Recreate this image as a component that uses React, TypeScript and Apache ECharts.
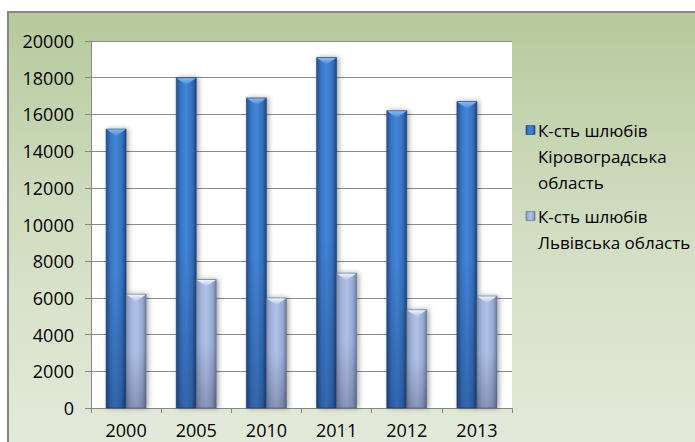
import React, { useEffect, useRef } from "react";
import * as echarts from "echarts";

const categories = ["2000", "2005", "2010", "2011", "2012", "2013"];
const kirovograd = [15200, 18000, 16900, 19100, 16200, 16700];
const lviv = [6200, 7000, 6000, 7350, 5350, 6100];
const seriesNames = [
  "К-сть шлюбів Кіровоградська область",
  "К-сть шлюбів Львівська область",
];
const legendLines = [
  ["К-сть шлюбів", "Кіровоградська", "область"],
  ["К-сть шлюбів", "Львівська область"],
];
const yMin = 0;
const yMax = 20000;
const yInterval = 2000;

const FONT = '"Open Sans", "Noto Sans", sans-serif';

const palettes = [
  {
    body: ["#24518e", "#3a78c9", "#4385d8", "#3670bd", "#1d467e"],
    top: "#8dbaf3",
    edge: "#1b3f70",
  },
  {
    body: ["#7f90b6", "#a3b4dc", "#b0c1e8", "#9aabd2", "#6f7fa3"],
    top: "#eef3fd",
    edge: "#5d6a88",
  },
];

function bodyGradient(p: (typeof palettes)[number]) {
  return new echarts.graphic.LinearGradient(0, 0, 1, 0, [
    { offset: 0, color: p.body[0] },
    { offset: 0.25, color: p.body[1] },
    { offset: 0.5, color: p.body[2] },
    { offset: 0.8, color: p.body[3] },
    { offset: 1, color: p.body[4] },
  ]);
}

function makeRenderItem(seriesIdx: number) {
  return (params: any, api: any) => {
    const idx = api.value(0);
    const val = api.value(1);
    const top = api.coord([idx, val]);
    const base = api.coord([idx, 0]);
    const cw = api.size([1, 0])[0];
    const bw = cw * 0.285;
    const x0 = seriesIdx === 0 ? top[0] - bw : top[0];
    const h = base[1] - top[1];
    const p = palettes[seriesIdx];
    const bevel = Math.min(7, h / 2);
    return {
      type: "group",
      children: [
        {
          type: "rect",
          shape: { x: x0, y: top[1], width: bw, height: h },
          style: {
            fill: bodyGradient(p),
            stroke: p.edge,
            lineWidth: 0.6,
            shadowBlur: 5,
            shadowColor: "rgba(0,0,0,0.35)",
            shadowOffsetX: 2,
            shadowOffsetY: 0,
          },
        },
        {
          type: "rect",
          shape: { x: x0, y: base[1] - h * 0.5, width: bw, height: h * 0.5 },
          style: {
            fill: new echarts.graphic.LinearGradient(0, 0, 0, 1, [
              { offset: 0, color: "rgba(0,0,0,0)" },
              { offset: 1, color: "rgba(0,0,30,0.22)" },
            ]),
          },
        },
        {
          type: "polygon",
          shape: {
            points: [
              [x0 + 0.5, top[1] + 0.5],
              [x0 + bw - 0.5, top[1] + 0.5],
              [x0 + bw / 2, top[1] + bevel],
            ],
          },
          style: {
            fill: new echarts.graphic.LinearGradient(0, 0, 0, 1, [
              { offset: 0, color: p.top },
              { offset: 1, color: p.body[2] },
            ]),
          },
        },
      ],
    };
  };
}

export default function App() {
  const ref = useRef<HTMLDivElement>(null);

  useEffect(() => {
    if (!ref.current) return;
    const chart = echarts.init(ref.current, undefined, { renderer: "svg" });
    const allSeries = [kirovograd, lviv];

    const legendGraphics: any[] = [];
    const legendTops = [130, 216];
    legendLines.forEach((lines, i) => {
      const cy = legendTops[i];
      legendGraphics.push({
        type: "rect",
        shape: { x: 526, y: cy - 4.5, width: 9, height: 9 },
        style: {
          fill: bodyGradient(palettes[i]),
          stroke: palettes[i].edge,
          lineWidth: 0.6,
        },
      });
      legendGraphics.push({
        type: "text",
        x: 538,
        y: cy - 13,
        style: {
          text: lines.join("\n"),
          font: `17px ${FONT}`,
          lineHeight: 26,
          fill: "#000",
          verticalAlign: "top",
          align: "left",
        },
      });
    });

    chart.setOption({
      animation: false,
      backgroundColor: "transparent",
      grid: {
        left: 91,
        right: 183,
        top: 41,
        bottom: 34,
        show: true,
        backgroundColor: "#ffffff",
        borderWidth: 0,
      },
      xAxis: {
        type: "category",
        data: categories,
        axisLine: { show: true, lineStyle: { color: "#868686", width: 1 } },
        axisTick: { show: true, length: 5, lineStyle: { color: "#868686" } },
        axisLabel: {
          color: "#000",
          fontSize: 18,
          fontFamily: FONT,
          margin: 13,
        },
        splitLine: { show: false },
      },
      yAxis: {
        type: "value",
        min: yMin,
        max: yMax,
        interval: yInterval,
        axisLine: { show: true, lineStyle: { color: "#868686", width: 1 } },
        axisTick: { show: true, length: 6, lineStyle: { color: "#868686" } },
        axisLabel: {
          color: "#000",
          fontSize: 18,
          fontFamily: FONT,
          margin: 17,
          formatter: (v: number) => String(v),
        },
        splitLine: { show: true, lineStyle: { color: "#8c8c8c", width: 1 } },
      },
      graphic: legendGraphics,
      series: allSeries.map((values, si) => ({
        name: seriesNames[si],
        type: "custom",
        renderItem: makeRenderItem(si),
        encode: { x: 0, y: 1 },
        data: values.map((v, i) => [i, v]),
        z: 3,
      })),
    });

    return () => chart.dispose();
  }, []);

  return (
    <div
      style={{
        position: "fixed",
        left: 0,
        top: 0,
        width: 695,
        height: 442,
        background: "#ffffff",
        overflow: "hidden",
      }}
    >
      <div
        style={{
          position: "absolute",
          left: 7,
          top: 11,
          width: 700,
          height: 440,
          borderTop: "2px solid #878787",
          borderLeft: "2px solid #878787",
          background:
            "linear-gradient(to bottom, #b6ca9b 0%, #cbd8b8 35%, #d9e2cb 65%, #e4eadb 100%)",
        }}
      />
      <div
        ref={ref}
        style={{ position: "absolute", left: 0, top: 0, width: 695, height: 442 }}
      />
    </div>
  );
}
